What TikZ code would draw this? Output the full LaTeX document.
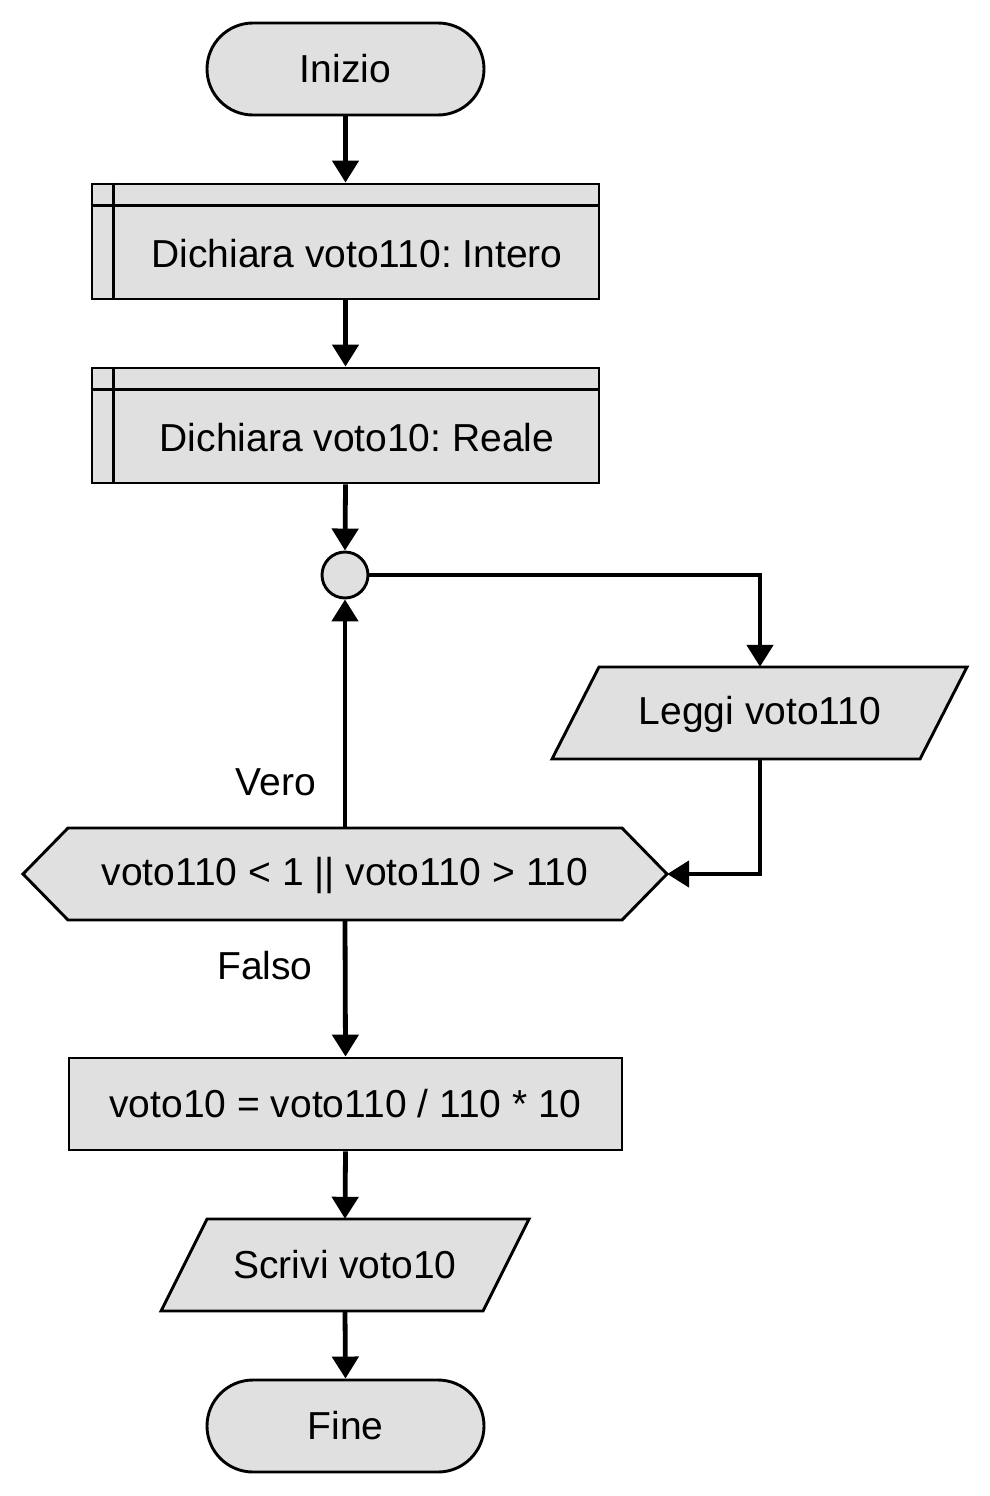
\documentclass[tikz,border=0pt]{standalone}
\usepackage{fontspec}
\setmainfont{Liberation Sans}
\usetikzlibrary{arrows.meta,calc}
\definecolor{boxfill}{RGB}{224,224,224}
\frenchspacing
\tikzset{
  x=1pt,y=-1pt,
  shapeline/.style={draw=black,line width=2.9pt,fill=boxfill},
  term/.style={shapeline,rectangle,rounded corners=46pt,minimum width=277pt,minimum height=92pt,inner sep=0pt},
  procbox/.style={shapeline,rectangle,inner sep=0pt},
  anchorbox/.style={rectangle,inner sep=0pt},
  txt/.style={inner sep=0pt,font=\fontsize{39}{46}\selectfont},
  conn/.style={line width=4.8pt,-{Triangle[width=26pt,length=22pt]}},
}
\begin{document}
\begin{tikzpicture}
\useasboundingbox (0,0) rectangle (990,1496);
% start
\node[term,txt] (inizio) at (345.5,69) {Inizio};
% declare 1
\node[procbox,minimum width=507pt,minimum height=115pt] (d1) at (345.5,241.5) {};
\draw[line width=2.9pt] ([xshift=23pt]d1.north west) -- ([xshift=23pt]d1.south west);
\draw[line width=2.9pt] ([yshift=-23pt]d1.north west) -- ([yshift=-23pt]d1.north east);
\node[txt] (d1t) at (357,254) {Dichiara voto110: Intero};
% declare 2
\node[procbox,minimum width=507pt,minimum height=115pt] (d2) at (345.5,425.5) {};
\draw[line width=2.9pt] ([xshift=23pt]d2.north west) -- ([xshift=23pt]d2.south west);
\draw[line width=2.9pt] ([yshift=-23pt]d2.north west) -- ([yshift=-23pt]d2.north east);
\node[txt] (d2t) at (357,438) {Dichiara voto10: Reale};
% connector circle
\node[shapeline,circle,minimum size=46pt,inner sep=0pt] (c) at (345,575) {};
% input
\draw[shapeline] (599,667) -- (967,667) -- (920,759) -- (552,759) -- cycle;
\node[anchorbox,minimum width=368pt,minimum height=92pt] (leggi) at (760,713) {};
\node[txt] (leggit) at (760,714) {Leggi voto110};
% decision hexagon
\draw[shapeline] (23,874) -- (68,828) -- (622,828) -- (667,874) -- (622,920) -- (68,920) -- cycle;
\node[anchorbox,minimum width=644pt,minimum height=92pt] (hex) at (345,874) {};
\node[txt] (hext) at (345,875) {voto110 < 1 || voto110 > 110};
\node[txt] (vero) at (276,782) {Vero};
\node[txt] (falso) at (265,966) {Falso};
% calc
\node[procbox,minimum width=553pt,minimum height=92pt,txt] (calc) at (345.5,1104) {voto10 = voto110 / 110 * 10};
% output
\draw[shapeline] (207,1219) -- (529,1219) -- (483,1311) -- (161,1311) -- cycle;
\node[anchorbox,minimum width=322pt,minimum height=92pt] (scrivi) at (345,1265) {};
\node[txt] (scrivit) at (345,1265) {Scrivi voto10};
% end
\node[term,txt] (fine) at (345.5,1426) {Fine};
% connectors
\draw[conn] (inizio.south) -- (d1.north);
\draw[conn] (d1.south) -- (d2.north);
\draw[conn] (d2.south) -- (c.north);
\draw[conn] (c.east) -| (leggi.north);
\draw[conn] (leggi.south) |- (hex.east);
\draw[conn] (hex.north) -- (c.south);
\draw[conn] (hex.south) -- (calc.north);
\draw[conn] (calc.south) -- (scrivi.north);
\draw[conn] (scrivi.south) -- (fine.north);
\end{tikzpicture}
\end{document}
